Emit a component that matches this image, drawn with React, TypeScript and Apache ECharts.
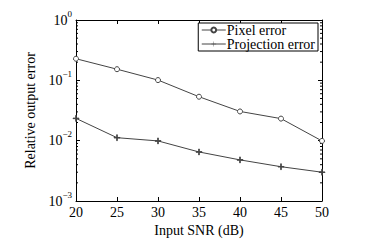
import React, { useEffect, useRef } from "react";
import * as echarts from "echarts";

const snr = [20, 25, 30, 35, 40, 45, 50];
const pixelError = [0.228, 0.153, 0.101, 0.0535, 0.0305, 0.0232, 0.0099];
const projectionError = [0.0234, 0.0112, 0.0099, 0.0065, 0.0048, 0.0037, 0.003];
const yTicks = [0.001, 0.01, 0.1, 1];
const minorTickValues = [2, 3, 4, 5, 6, 7, 8, 9].flatMap((m) => [m * 0.001, m * 0.01, m * 0.1]);

const FONT = "Times New Roman, Liberation Serif, DejaVu Serif, serif";
const COLOR = "#444";

const sup: Record<string, string> = { "0": "0", "-1": "−1", "-2": "−2", "-3": "−3" };

export default function App() {
  const ref = useRef<HTMLDivElement>(null);
  useEffect(() => {
    if (!ref.current) return;
    const chart = echarts.init(ref.current, null, { renderer: "svg" });
    const yLabel = (v: number) => {
      const e = Math.round(Math.log10(v));
      return `{b|10}{s|${sup[String(e)]}}`;
    };
    const logAxisBase = {
      type: "log" as const,
      min: yTicks[0],
      max: yTicks[yTicks.length - 1],
      logBase: 10,
      axisLine: { show: true, onZero: false, lineStyle: { color: "#000", width: 1 } },
      axisTick: { show: true, inside: true, length: 4, lineStyle: { color: "#000" } },
      splitLine: { show: false },
    };
    chart.setOption({
      animation: false,
      textStyle: { fontFamily: FONT },
      grid: { left: 76, right: 52, top: 20, bottom: 46 },
      legend: {
        right: 56,
        top: 23,
        orient: "vertical",
        itemGap: 0,
        itemWidth: 24,
        itemHeight: 6,
        padding: [0, 3, 0, 3],
        borderColor: "#000",
        borderWidth: 1,
        backgroundColor: "#fff",
        lineStyle: { width: 1 },
        textStyle: { fontFamily: FONT, fontSize: 14, lineHeight: 13, color: "#000", padding: [0, 0, 0, -4] },
        data: ["Pixel error", "Projection error"],
      },
      xAxis: [
        {
          type: "value",
          min: 20,
          max: 50,
          interval: 5,
          name: "Input SNR (dB)",
          nameLocation: "middle",
          nameGap: 12,
          nameTextStyle: { fontFamily: FONT, fontSize: 14, color: "#000" },
          axisLine: { show: true, onZero: false, lineStyle: { color: "#000" } },
          axisTick: { show: true, inside: true, length: 4, lineStyle: { color: "#000" } },
          axisLabel: { fontFamily: FONT, fontSize: 14, color: "#000", margin: 4 },
          splitLine: { show: false },
        },
        {
          type: "value",
          position: "top",
          min: 20,
          max: 50,
          interval: 5,
          axisLine: { show: true, onZero: false, lineStyle: { color: "#000" } },
          axisTick: { show: true, inside: true, length: 4, lineStyle: { color: "#000" } },
          axisLabel: { show: false },
          splitLine: { show: false },
        },
      ],
      yAxis: [
        {
          ...logAxisBase,
          name: "Relative output error",
          nameLocation: "middle",
          nameGap: 26,
          nameTextStyle: { fontFamily: FONT, fontSize: 14, color: "#000" },
          axisLabel: {
            formatter: yLabel,
            margin: 4,
            rich: {
              b: { fontFamily: FONT, fontSize: 14, lineHeight: 22, color: "#000", verticalAlign: "middle" },
              s: { fontFamily: FONT, fontSize: 9, lineHeight: 10, color: "#000", verticalAlign: "top" },
            },
          },
        },
        {
          ...logAxisBase,
          position: "right",
          axisLabel: { show: false },
        },
      ],
      series: [
        {
          name: "Pixel error",
          type: "line",
          data: snr.map((x, i) => [x, pixelError[i]]),
          symbol: "circle",
          symbolSize: 5,
          showAllSymbol: true,
          lineStyle: { color: COLOR, width: 1 },
          itemStyle: { color: "#fff", borderColor: COLOR, borderWidth: 1 },
        },
        {
          name: "Projection error",
          type: "line",
          data: snr.map((x, i) => [x, projectionError[i]]),
          symbol: "path://M-0.08,-1H0.08V-0.08H1V0.08H0.08V1H-0.08V0.08H-1V-0.08H-0.08Z",
          symbolSize: 6,
          showAllSymbol: true,
          lineStyle: { color: COLOR, width: 1 },
          itemStyle: { color: COLOR, borderColor: COLOR },
        },
        {
          type: "custom",
          silent: true,
          xAxisIndex: 0,
          yAxisIndex: 0,
          data: minorTickValues.map((v) => [v]),
          renderItem: (params: any, api: any) => {
            const v = api.value(0);
            const pl = api.coord([20, v]);
            const pr = api.coord([50, v]);
            return {
              type: "group",
              children: [
                { type: "line", shape: { x1: pl[0], y1: pl[1], x2: pl[0] + 2, y2: pl[1] }, style: { stroke: "#000", lineWidth: 1 } },
                { type: "line", shape: { x1: pr[0] - 2, y1: pr[1], x2: pr[0], y2: pr[1] }, style: { stroke: "#000", lineWidth: 1 } },
              ],
            };
          },
        },
      ],
    });
    return () => chart.dispose();
  }, []);
  return <div ref={ref} style={{ width: 374, height: 247, margin: -8 }} />;
}
